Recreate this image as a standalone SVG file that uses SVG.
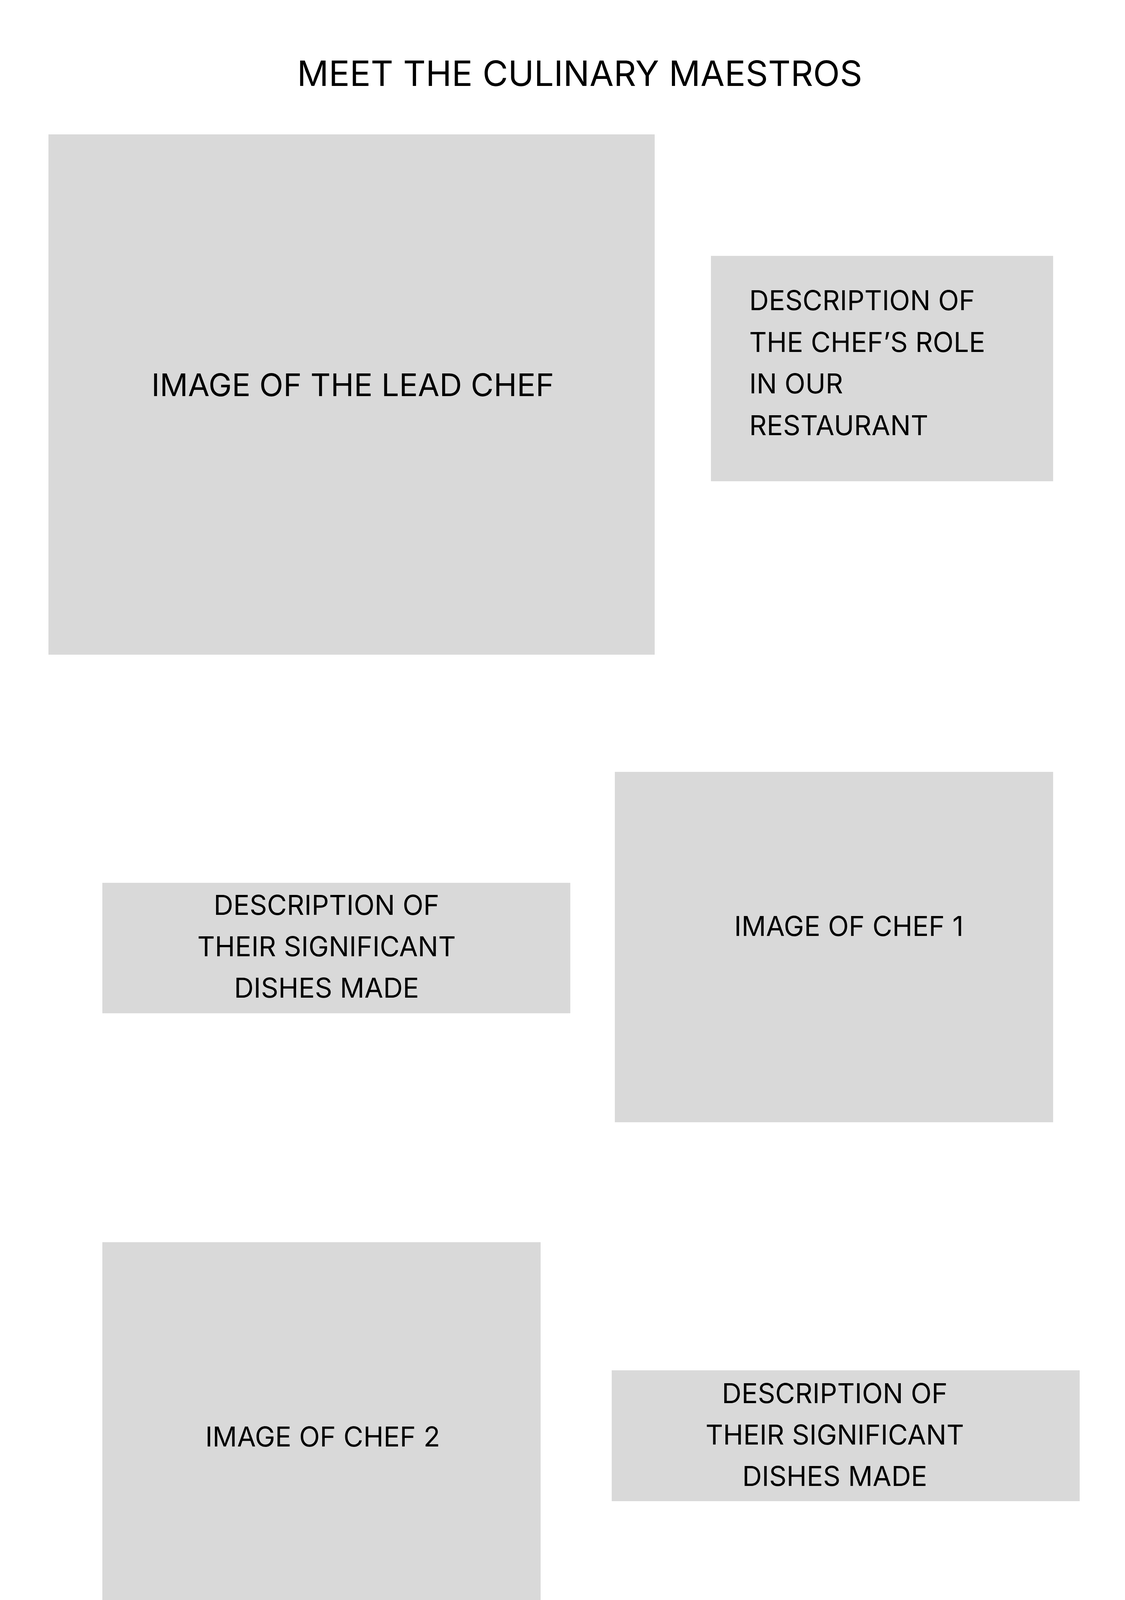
<svg xmlns="http://www.w3.org/2000/svg" width="2880" height="5710" viewBox="0 0 2880 5710">
<style>
.box{fill:#D9D9D9}
text{font-family:Inter,"Noto Sans","Liberation Sans",sans-serif;fill:#000}
.t{font-size:89.5px}
.l{font-size:80px}
.m{font-size:69.5px}
.c{text-anchor:middle}
</style>
<rect width="2880" height="5710" fill="#fff"/>
<g id="title"><text class="t c" x="1484" y="220">MEET THE CULINARY MAESTROS</text></g>
<g id="lead-chef-image"><rect class="box" x="124" y="344" width="1552" height="1332"/><text class="l c" x="903" y="1014">IMAGE OF THE LEAD CHEF</text></g>
<g id="lead-chef-role"><rect class="box" x="1820" y="655" width="876" height="577"/>
<text class="m" x="1918" y="794">DESCRIPTION OF</text>
<text class="m" x="1918" y="901">THE CHEF’S ROLE</text>
<text class="m" x="1918" y="1007">IN OUR</text>
<text class="m" x="1918" y="1114">RESTAURANT</text></g>
<g id="chef1-dishes"><rect class="box" x="262" y="2260" width="1198" height="334"/>
<text class="m c" x="836" y="2342">DESCRIPTION OF</text>
<text class="m c" x="836" y="2448">THEIR SIGNIFICANT</text>
<text class="m c" x="836" y="2554">DISHES MADE</text></g>
<g id="chef1-image"><rect class="box" x="1574" y="1976" width="1122" height="897"/><text class="m c" x="2173" y="2396">IMAGE OF CHEF 1</text></g>
<g id="chef2-image"><rect class="box" x="262" y="3180" width="1122" height="989"/><text class="m c" x="826" y="3703">IMAGE OF CHEF 2</text></g>
<g id="chef2-dishes"><rect class="box" x="1566" y="3508" width="1198" height="335"/>
<text class="m c" x="2137" y="3592">DESCRIPTION OF</text>
<text class="m c" x="2137" y="3698">THEIR SIGNIFICANT</text>
<text class="m c" x="2137" y="3804">DISHES MADE</text></g>
<g id="chef3-dishes"><rect class="box" x="224" y="4749" width="1198" height="335"/>
<text class="m c" x="788" y="4842">DESCRIPTION OF</text>
<text class="m c" x="788" y="4947">THEIR SIGNIFICANT</text>
<text class="m c" x="788" y="5054">DISHES MADE</text></g>
<g id="chef3-image"><rect class="box" x="1566" y="4504" width="1122" height="923"/><text class="m c" x="2132" y="4983">IMAGE OF CHEF 3</text></g>
<g id="connectors"/>
</svg>
